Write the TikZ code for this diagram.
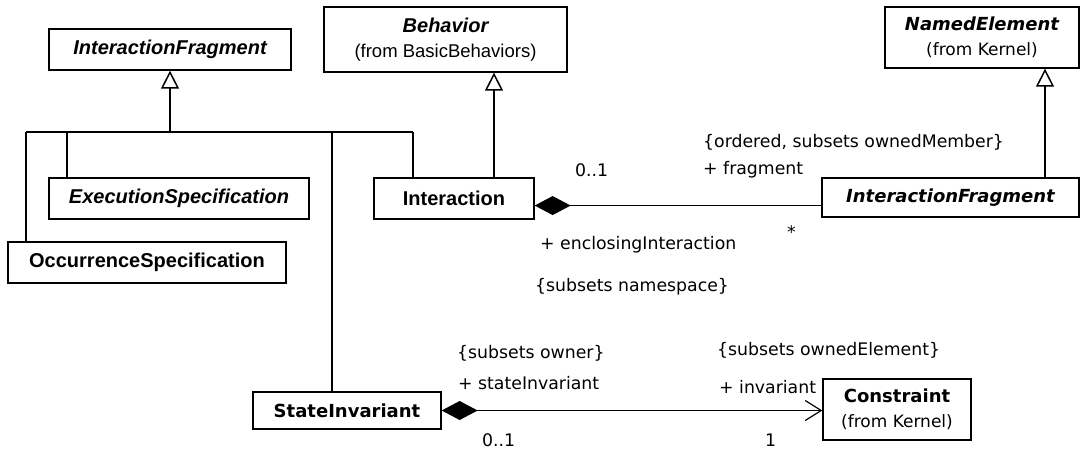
\documentclass[tikz,border=0pt]{standalone}
\usepackage{fontspec}
\newfontfamily\arialfont{Liberation Sans}
\newfontfamily\tahomafont{DejaVu Sans}
\usetikzlibrary{arrows.meta,positioning}

\begin{document}
\begin{tikzpicture}[
  x=1pt,y=-1pt,
  box/.style={draw,line width=1.3pt,fill=white,inner sep=0pt,align=center},
  arial/.style={font=\arialfont\fontsize{20}{25}\selectfont},
  tahoma/.style={font=\tahomafont\fontsize{18}{25}\selectfont},
  lbl/.style={inner sep=0pt,anchor=west,font=\tahomafont\fontsize{17.3}{20}\selectfont},
  link/.style={line width=1.2pt},
  gen/.style={line width=1.5pt,-{Triangle[open,fill=white,length=18pt,width=18pt]}},
  comp/.style={line width=1.2pt,{Diamond[length=36pt,width=19pt]}-},
  nav/.style={line width=1.2pt,{Diamond[length=36pt,width=19pt]}-{Straight Barb[length=16pt,width=20pt]}}
]
  \useasboundingbox (0,0) rectangle (1084,453);

  % classes
  \node[box,arial,minimum width=242pt,minimum height=41pt] (ifTop) at (170,49.5) {\bfseries\itshape InteractionFragment};
  \node[box,arial,minimum width=260pt,minimum height=41pt] (execSpec) at (179,198.5) {\bfseries\itshape ExecutionSpecification};
  \node[box,arial,minimum width=278pt,minimum height=41pt] (occSpec) at (147,262.5) {\bfseries OccurrenceSpecification};
  \node[box,arial,minimum width=243pt,minimum height=65pt] (behavior) at (445.5,39.5)
    {\bfseries\itshape Behavior\\{\fontsize{18.5}{25}\selectfont (from BasicBehaviors)}};
  \node[box,arial,minimum width=160pt,minimum height=41pt] (interaction) at (454,198.5) {\bfseries Interaction};
  \node[box,tahoma,minimum width=194pt,minimum height=61pt] (namedElem) at (982,37.5)
    {\bfseries\itshape NamedElement\\{\fontsize{17}{25}\selectfont (from Kernel)}};
  \node[box,tahoma,minimum width=257pt,minimum height=39pt] (ifRight) at (950.5,197.5) {\bfseries\itshape InteractionFragment};
  \node[box,tahoma,minimum width=188pt,minimum height=37pt] (stateInv) at (347,410.5) {\bfseries StateInvariant};
  \node[box,tahoma,minimum width=148pt,minimum height=61pt] (constraint) at (897,409.5)
    {\bfseries Constraint\\{\fontsize{17}{25}\selectfont (from Kernel)}};

  % generalization tree
  \coordinate (jOcc) at (26,132);
  \coordinate (jExe) at (67,132);
  \coordinate (jSta) at (332,132);
  \coordinate (jInt) at (413,132);
  \draw[link] (jOcc) -- (jInt);
  \draw[link] (jOcc) -- (jOcc |- occSpec.north);
  \draw[link] (jExe) -- (jExe |- execSpec.north);
  \draw[link] (jSta) -- (jSta |- stateInv.north);
  \draw[link] (jInt) -- (jInt |- interaction.north);
  \draw[gen] (ifTop.south |- jOcc) -- (ifTop.south);

  \coordinate (intTop) at ([xshift=40pt]interaction.north);
  \draw[gen] (intTop) -- (intTop |- behavior.south);
  \coordinate (ifrTop) at ([xshift=94.5pt]ifRight.north);
  \draw[gen] (ifrTop) -- (ifrTop |- namedElem.south);

  % associations
  \draw[comp] (interaction.-5.4) -- (interaction.-5.4 -| ifRight.west);
  \draw[nav] (stateInv.east) -- (stateInv.east -| constraint.west);

  % role labels
  \node[lbl] (mInt) at (575,170) {0..1};
  \node[lbl] (cFrag) at (703,142) {\{ordered, subsets ownedMember\}};
  \node[lbl] (rFrag) at (703,170) {+ fragment};
  \node[lbl] (mFrag) at (787,232) {*};
  \node[lbl] (rEncl) at (540,245) {+ enclosingInteraction};
  \node[lbl] (cEncl) at (535,287) {\{subsets namespace\}};
  \node[lbl] (cOwner) at (457,353) {\{subsets owner\}};
  \node[lbl] (rState) at (458,383) {+ stateInvariant};
  \node[lbl] (mState) at (482,440) {0..1};
  \node[lbl] (cInv) at (717,350) {\{subsets ownedElement\}};
  \node[lbl] (rInv) at (719,387) {+ invariant};
  \node[lbl] (mInv) at (765,440) {1};
\end{tikzpicture}
\end{document}
